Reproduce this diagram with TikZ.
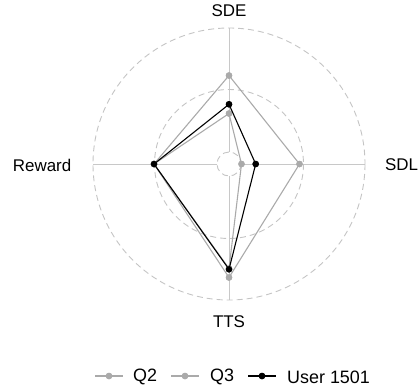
\documentclass[tikz,border=0pt]{standalone}
\usepackage{fontspec}
\setmainfont{Liberation Sans}
\definecolor{gridgray}{HTML}{C8C8C8}
\definecolor{ringgray}{HTML}{C4C4C4}
\definecolor{seriesgray}{HTML}{AAAAAA}
\begin{document}
\begin{tikzpicture}[x=1bp,y=-1bp,
  gridline/.style={draw=gridgray, line width=0.9bp},
  ring/.style={draw=ringgray, dash pattern=on 6bp off 4bp, line width=0.9bp},
  graydot/.style={circle, fill=seriesgray, inner sep=0pt, minimum size=6.5bp},
  blackdot/.style={circle, fill=black, inner sep=0pt, minimum size=6.5bp},
  grayline/.style={draw=seriesgray, line width=1.1bp, line join=round},
  blackline/.style={draw=black, line width=1.1bp, line join=round},
  axislabel/.style={font=\fontsize{17}{17}\selectfont, inner sep=0pt},
  legendlabel/.style={font=\fontsize{18}{18}\selectfont, inner sep=0pt, anchor=west},
]
\useasboundingbox (0,0) rectangle (419,392);
\coordinate (c) at (229,164);
% axis ends
\coordinate (aNi) at (229,152); \coordinate (aNo) at (229,28);
\coordinate (aSi) at (229,176); \coordinate (aSo) at (229,300);
\coordinate (aWi) at (217,164); \coordinate (aWo) at (93,164);
\coordinate (aEi) at (241,164); \coordinate (aEo) at (365,164);
\draw[gridline] (aNi) -- (aNo);
\draw[gridline] (aSi) -- (aSo);
\draw[gridline] (aWi) -- (aWo);
\draw[gridline] (aEi) -- (aEo);
% rings
\draw[ring] (c) circle[radius=136];
\draw[ring] (c) circle[radius=74.5];
\draw[ring] (c) circle[radius=12];
% labels
\node[axislabel] (lsde) at (229,10.5) {SDE};
\node[axislabel] (ltts) at (229,322) {TTS};
\node[axislabel, anchor=east] (lrew) at (71.5,165) {Reward};
\node[axislabel, anchor=west] (lsdl) at (385,164.5) {SDL};
% Q2
\node[graydot] (q2a) at (229,75.5) {};
\node[graydot] (q2b) at (299.5,164) {};
\node[graydot] (q2c) at (229,277.5) {};
\node[graydot] (q2d) at (154,164) {};
% Q3
\node[graydot] (q3a) at (229,113.5) {};
\node[graydot] (q3b) at (241.5,164) {};
\node[graydot] (q3c) at (229,268.5) {};
\node[graydot] (q3d) at (154,164) {};
% User 1501
\node[blackdot] (ua) at (229,104.3) {};
\node[blackdot] (ub) at (255.7,164) {};
\node[blackdot] (uc) at (229,269.3) {};
\node[blackdot] (ud) at (154,164) {};
\draw[grayline] (q2a.center) -- (q2b.center) -- (q2c.center) -- (q2d.center) -- cycle;
\draw[grayline] (q3a.center) -- (q3b.center) -- (q3c.center) -- (q3d.center) -- cycle;
\node[graydot] at (q2a) {}; \node[graydot] at (q2b) {}; \node[graydot] at (q2c) {}; \node[graydot] at (q2d) {};
\node[graydot] at (q3a) {}; \node[graydot] at (q3b) {}; \node[graydot] at (q3c) {};
\draw[blackline] (ua.center) -- (ub.center) -- (uc.center) -- (ud.center) -- cycle;
\node[blackdot] at (ua) {}; \node[blackdot] at (ub) {}; \node[blackdot] at (uc) {}; \node[blackdot] at (ud) {};
% legend
\coordinate (k1a) at (95,376); \coordinate (k1b) at (123,376);
\node[graydot] (k1) at (109,376) {};
\draw[grayline] (k1a) -- (k1b);
\node[graydot] at (k1) {};
\node[legendlabel] (t1) at (133,377) {Q2};
\coordinate (k2a) at (171,376); \coordinate (k2b) at (199,376);
\node[graydot] (k2) at (185,376) {};
\draw[grayline] (k2a) -- (k2b);
\node[graydot] at (k2) {};
\node[legendlabel] (t2) at (210,377) {Q3};
\coordinate (k3a) at (248,376); \coordinate (k3b) at (276,376);
\node[blackdot] (k3) at (262,376) {};
\draw[blackline] (k3a) -- (k3b);
\node[blackdot] at (k3) {};
\node[legendlabel] (t3) at (287,377) {User 1501};
\end{tikzpicture}
\end{document}
